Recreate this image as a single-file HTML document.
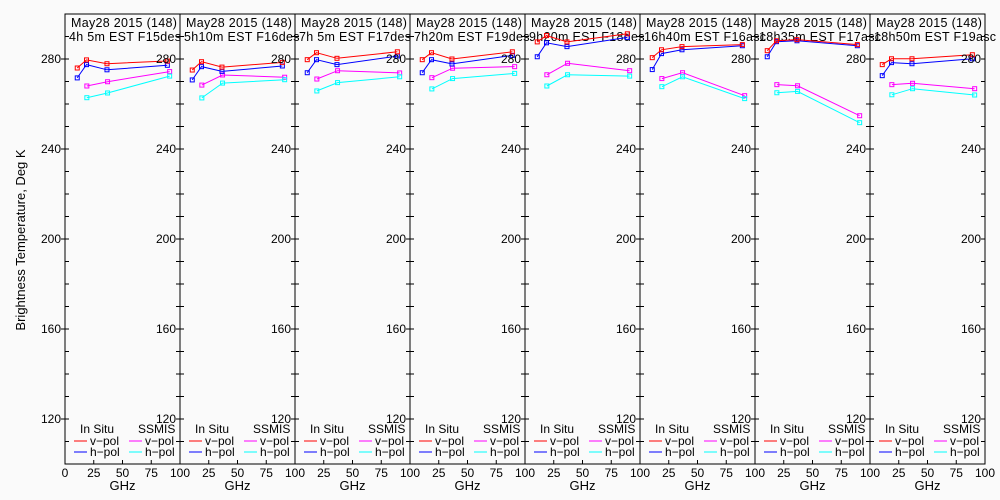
<!DOCTYPE html>
<html><head><meta charset="utf-8"><style>
html,body{margin:0;padding:0;background:#fafafa;}
svg{display:block;font-family:"Liberation Sans",sans-serif;}
</style></head><body>
<svg id="chart" width="1000" height="500" xmlns="http://www.w3.org/2000/svg">
<rect width="1000" height="500" fill="#fafafa"/>
<text x="25" y="240" font-size="13" text-anchor="middle" transform="rotate(-90 25 240)">Brightness Temperature, Deg K</text>
</svg>
<script>
const panelTitles = ["4h 5m  EST  F15des","5h10m  EST  F16des","7h 5m  EST  F17des","7h20m  EST  F19des","9h20m  EST  F18des","16h40m  EST  F16asc","18h35m  EST  F17asc","18h50m  EST  F19asc"];
const dateLabel = "May28 2015 (148)";
const inSituFreqs = [10.65, 18.7, 36.5, 89];
const ssmisFreqs = [19, 37, 91];
const inSituV = [[276,279.6,277.9,279.1],[275.1,278.8,276.4,278.5],[279.7,282.8,280.3,283.2],[279.7,282.8,280,283.2],[287.6,290.4,287.6,291.2],[280.6,284.1,285.5,286.4],[283.7,288.1,288.6,286.4],[277.5,280.1,280.1,281.9]];
const inSituH = [[271.6,277.5,275.2,277.2],[270.7,276.6,274.5,276.9],[273.9,279.7,277.5,281.3],[273.9,279.7,277.8,281.6],[281,287.2,285.5,289.6],[275.3,282.4,284.1,285.9],[281,287.7,288.1,285.9],[272.6,278.4,277.9,280.1]];
const ssmisV = [[268,269.9,274.4],[268.4,272.9,271.9],[271.1,274.8,273.8],[271.7,275.9,276.6],[273,278.1,274.8],[271.3,273.9,263.7],[268.6,268.1,254.8],[268.6,269.2,266.8]];
const ssmisH = [[262.8,264.9,272.4],[262.7,269.3,270.8],[265.8,269.5,272.1],[266.7,271.3,273.6],[268,273,272.4],[267.7,272.1,262.4],[265,265.6,251.7],[264.1,266.8,264]];
const yTickLabels = [120,160,200,240,280];
const xTickLabels = [0,25,50,75,100];

const svg = document.getElementById('chart');
const NS = 'http://www.w3.org/2000/svg';
const X0 = 65, PW = 115, TOP = 14, BOT = 464, TMIN = 100, TMAX = 300;
function yS(t){ return BOT - (t - TMIN) * (BOT - TOP) / (TMAX - TMIN); }
function xS(p, g){ return X0 + p * PW + g * PW / 100; }
function mk(tag, attrs, parent){ const e = document.createElementNS(NS, tag); for (const k in attrs) e.setAttribute(k, attrs[k]); (parent || svg).appendChild(e); return e; }

for (let p = 0; p < 8; p++) {
  const g = mk('g', {});
  
  
  const left = X0 + p * PW;
  const frame = mk('rect', {x:left, y:TOP, width:PW, height:BOT-TOP, fill:'none', stroke:'#000', 'stroke-width':1}, g);
  
  
  for (let t = 110; t < 300; t += 10) {
    const y = yS(t);
    mk('line', {x1:left, x2:left+4, y1:y, y2:y, stroke:'#000'}, g);
    mk('line', {x1:left+PW-4, x2:left+PW, y1:y, y2:y, stroke:'#000'}, g);
  }
  [25,50,75].forEach(v => { const x = xS(p, v); mk('line', {x1:x, x2:x, y1:BOT, y2:BOT-4, stroke:'#000'}, g); });
  xTickLabels.forEach(v => {
    if (p > 0 && v === 0) return;
    const tl = mk('text', {x:xS(p, v), y:477, 'font-size':12, 'text-anchor':'middle'}, g);
    
    
    tl.textContent = v;
  });
  const gx = mk('text', {x:left+PW/2, y:490, 'font-size':13, 'text-anchor':'middle'}, g);
  
  
  gx.textContent = 'GHz';
  const t1 = mk('text', {x:left+6, y:27, 'font-size':12.5, 'letter-spacing':0.3}, g);
  
  
  t1.textContent = dateLabel;
  const t2 = mk('text', {x:left+4, y:41, 'font-size':12.5, 'letter-spacing':0.3, 'xml:space':'preserve'}, g);
  
  
  t2.textContent = panelTitles[p];
  const series = [[inSituFreqs, ssmisV[p], '#ff00ff'], [inSituFreqs, ssmisH[p], '#00ffff'], [inSituFreqs, inSituH[p], '#0000ff'], [inSituFreqs, inSituV[p], '#ff0000']];
  const sNames = ['ssmis-v-pol','ssmis-h-pol','insitu-h-pol','insitu-v-pol'];
  series.forEach((s, i) => {
    const freqs = s[1].length === 3 ? ssmisFreqs : inSituFreqs;
    const pts = s[1].map((v, k) => xS(p, freqs[k]).toFixed(1) + ',' + yS(v).toFixed(1)).join(' ');
    const pl = mk('polyline', {points:pts, fill:'none', stroke:s[2], 'stroke-width':1}, g);
    
    
    s[1].forEach((v, k) => {
      const m = mk('rect', {x:xS(p, freqs[k])-2, y:yS(v)-2, width:4, height:4, fill:'none', stroke:s[2]}, g);
      
      
    });
  });
  const lg = mk('g', {}, g);
  
  
  const l1 = mk('text', {x:left+15, y:433, 'font-size':12}, lg); l1.textContent = 'In Situ';
  const l2 = mk('text', {x:left+73, y:433, 'font-size':12}, lg); l2.textContent = 'SSMIS';
  [['#ff0000',left+9,445,'v\u2212pol'],['#0000ff',left+9,456,'h\u2212pol'],['#ff00ff',left+64,445,'v\u2212pol'],['#00ffff',left+64,456,'h\u2212pol']].forEach(e => {
    mk('line', {x1:e[1], x2:e[1]+13, y1:e[2]-4, y2:e[2]-4, stroke:e[0]}, lg);
    const lt = mk('text', {x:e[1]+16, y:e[2], 'font-size':12}, lg);
    
    
    lt.textContent = e[3];
  });
}
for (let b = 0; b <= 8; b++) {
  const bx = X0 + b * PW;
  yTickLabels.forEach(t => {
    const y = yS(t);
    mk('line', {x1:bx-4, x2:bx, y1:y, y2:y, stroke:'#000'});
    const tl = mk('text', {x:bx-4, y:y+4, 'font-size':12, 'text-anchor':'end'});
    
    
    tl.textContent = t;
  });
}
</script>
</body></html>
